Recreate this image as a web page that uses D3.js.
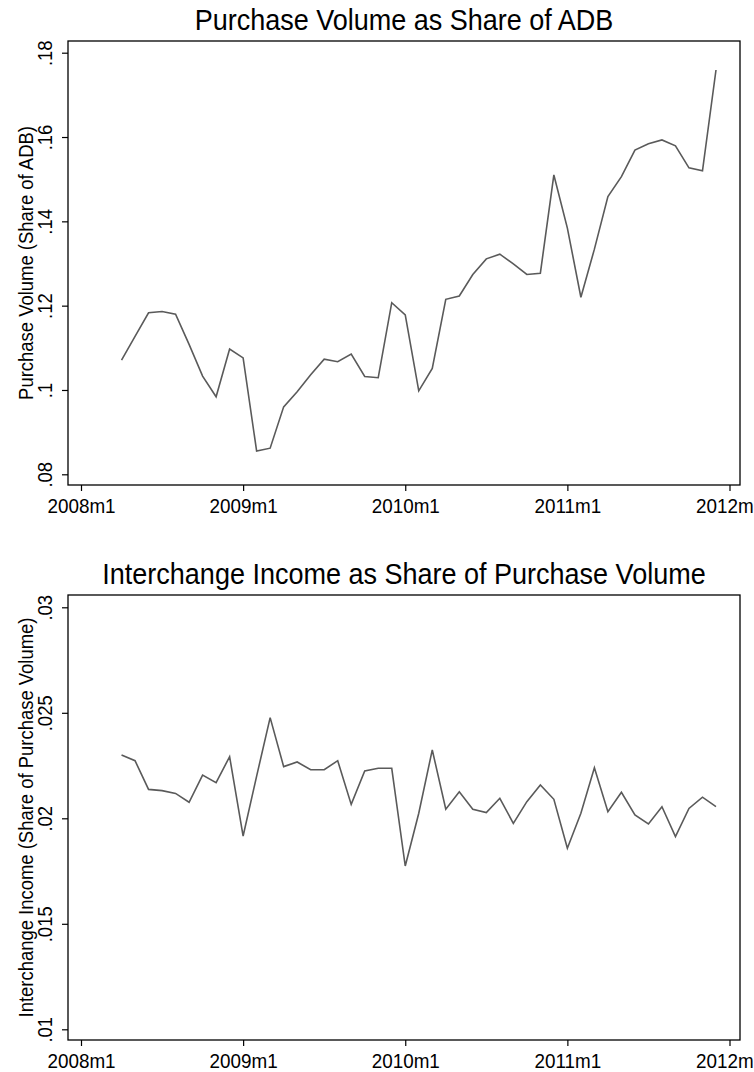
<!DOCTYPE html>
<html>
<head>
<meta charset="utf-8">
<script src="https://cdn.jsdelivr.net/npm/d3@7"></script>
<style>
	body { margin: 0; background: #fff; }
	text { font-family: "Liberation Sans", Arial, sans-serif; fill: #000; }
</style>
</head>
<body>
<div class="chart"></div>
<script>
// monthly observations, 2008m4 .. 2011m12
const months = [
	"2008m4","2008m5","2008m6","2008m7","2008m8","2008m9","2008m10","2008m11","2008m12",
	"2009m1","2009m2","2009m3","2009m4","2009m5","2009m6","2009m7","2009m8","2009m9","2009m10","2009m11","2009m12",
	"2010m1","2010m2","2010m3","2010m4","2010m5","2010m6","2010m7","2010m8","2010m9","2010m10","2010m11","2010m12",
	"2011m1","2011m2","2011m3","2011m4","2011m5","2011m6","2011m7","2011m8","2011m9","2011m10","2011m11","2011m12"
];

const purchaseShare = [
	0.1071, 0.1127, 0.1183, 0.1186, 0.1180, 0.1108, 0.1033, 0.0984, 0.1097,
	0.1076, 0.0855, 0.0862, 0.0960, 0.0996, 0.1036, 0.1073, 0.1067, 0.1085, 0.1032, 0.1029, 0.1207,
	0.1178, 0.0998, 0.1051, 0.1215, 0.1223, 0.1274, 0.1311, 0.1322, 0.1299, 0.1274, 0.1277, 0.1510,
	0.1384, 0.1220, 0.1334, 0.1459, 0.1506, 0.1569, 0.1584, 0.1593, 0.1579, 0.1527, 0.1520, 0.1759
];

const interchangeShare = [
	0.02300, 0.02273, 0.02137, 0.02131, 0.02118, 0.02076, 0.02205, 0.02169, 0.02292,
	0.01916, 0.02200, 0.02477, 0.02245, 0.02267, 0.02230, 0.02230, 0.02273, 0.02066, 0.02224, 0.02237, 0.02237,
	0.01774, 0.02024, 0.02324, 0.02043, 0.02126, 0.02043, 0.02027, 0.02095, 0.01976, 0.02079, 0.02158, 0.02090,
	0.01858, 0.02024, 0.02240, 0.02031, 0.02123, 0.02016, 0.01973, 0.02055, 0.01913, 0.02047, 0.02100, 0.02055
];

const xTicks = ["2008m1","2009m1","2010m1","2011m1","2012m1"];
const purchaseTicks = [0.08, 0.10, 0.12, 0.14, 0.16, 0.18];
const interchangeTicks = [0.010, 0.015, 0.020, 0.025, 0.030];

// "2009m3" -> months since 2008m1
const monthIndex = s => {
	const [y, m] = s.split("m").map(Number);
	return (y - 2008) * 12 + (m - 1);
};

const width = 754, height = 1072;
const svg = d3.select(".chart")
	.append("svg")
	.attr("width", width)
	.attr("height", height);

svg.append("rect").attr("width", width).attr("height", height).attr("fill", "#fff");

const frameLeft = 68, frameRight = 740;
const labelSize = 20.5, titleSize = 30;

const xScale = d3.scaleLinear()
	.domain([0, 48])
	.range([81, 729.5]);

const fmtY = d => String(+d.toFixed(4)).replace(/^0/, "");

// Stata's font is narrower than Arial: squeeze the glyphs a bit
function condense(sel, k) {
	sel.each(function() {
		const len = this.getComputedTextLength();
		d3.select(this)
			.attr("textLength", len * k)
			.attr("lengthAdjust", "spacingAndGlyphs");
	});
}

function drawPanel(cfg) {
	const g = svg.append("g");

	const yScale = d3.scaleLinear()
		.domain(cfg.domain)
		.range(cfg.range);

	// frame
	g.append("rect")
		.attr("x", frameLeft)
		.attr("y", cfg.top)
		.attr("width", frameRight - frameLeft)
		.attr("height", cfg.bottom - cfg.top)
		.attr("fill", "none")
		.attr("stroke", "#000")
		.attr("stroke-width", 1.3);

	// y axis
	const yAxis = d3.axisLeft(yScale)
		.tickValues(cfg.ticks)
		.tickFormat(fmtY)
		.tickSize(6)
		.tickSizeOuter(0);

	const ya = g.append("g")
		.attr("transform", `translate(${frameLeft},0)`)
		.call(yAxis);
	ya.select(".domain").remove();
	ya.selectAll("line").attr("stroke", "#000").attr("stroke-width", 1.2);
	ya.selectAll("text")
		.attr("x", 0)
		.attr("y", -16)
		.attr("dy", 0)
		.attr("transform", "rotate(-90)")
		.style("text-anchor", "middle")
		.attr("font-size", labelSize + "px")
		.call(condense, 0.9);

	// x axis
	const xAxis = d3.axisBottom(xScale)
		.tickValues(xTicks.map(monthIndex))
		.tickFormat(d => xTicks[d / 12])
		.tickSize(6)
		.tickSizeOuter(0)
		.tickPadding(7);

	const xa = g.append("g")
		.attr("transform", `translate(0,${cfg.bottom})`)
		.call(xAxis);
	xa.select(".domain").remove();
	xa.selectAll("line").attr("stroke", "#000").attr("stroke-width", 1.2);
	xa.selectAll("text")
		.attr("font-size", labelSize + "px")
		.call(condense, 0.92);

	// line
	const line = d3.line()
		.x((d, i) => xScale(monthIndex(months[i])))
		.y(d => yScale(d));

	g.append("path")
		.datum(cfg.values)
		.attr("d", line)
		.attr("fill", "none")
		.attr("stroke", "#5a5a5a")
		.attr("stroke-width", 1.6)
		.attr("stroke-linejoin", "miter");

	// title
	g.append("text")
		.attr("x", (frameLeft + frameRight) / 2)
		.attr("y", cfg.top - 11)
		.attr("font-size", titleSize + "px")
		.style("text-anchor", "middle")
		.text(cfg.title)
		.call(condense, 0.9);

	// y title
	g.append("text")
		.attr("transform", `translate(33,${(cfg.top + cfg.bottom) / 2}) rotate(-90)`)
		.attr("font-size", labelSize + "px")
		.style("text-anchor", "middle")
		.text(cfg.yTitle)
		.call(condense, 0.9);
}

drawPanel({
	title: "Purchase Volume as Share of ADB",
	yTitle: "Purchase Volume (Share of ADB)",
	values: purchaseShare,
	ticks: purchaseTicks,
	domain: [0.08, 0.18],
	range: [474.3, 52.7],
	top: 41,
	bottom: 485
});

drawPanel({
	title: "Interchange Income as Share of Purchase Volume",
	yTitle: "Interchange Income (Share of Purchase Volume)",
	values: interchangeShare,
	ticks: interchangeTicks,
	domain: [0.01, 0.03],
	range: [1029.3, 607.3],
	top: 595,
	bottom: 1040
});
</script>
</body>
</html>
